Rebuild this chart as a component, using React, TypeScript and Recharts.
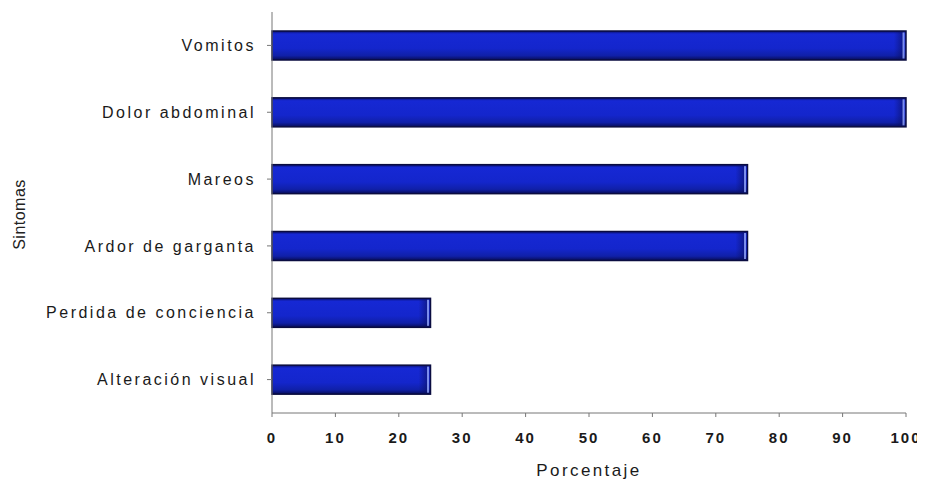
import React from 'react';
import { BarChart, Bar, XAxis, YAxis } from 'recharts';

const sintomas = [
  'Vomitos',
  'Dolor abdominal',
  'Mareos',
  'Ardor de garganta',
  'Perdida de conciencia',
  'Alteración visual',
];
const porcentajes = [100, 100, 75, 75, 25, 25];
const xTicks = [0, 10, 20, 30, 40, 50, 60, 70, 80, 90, 100];

const data = sintomas.map((s, i) => ({ sintoma: s, valor: porcentajes[i] }));

const FONT = 'Arial, "Liberation Sans", sans-serif';

// Bar with a shaded face, dark outline and a pale highlight on its end
const ShadedBar = (props: any) => {
  const { x, y, width, height } = props;
  if (!width || !height) return null;
  return (
    <g>
      <rect x={x} y={y} width={width} height={height} fill="url(#barShade)" stroke="#0a0c40" strokeWidth={1.5} />
      <rect x={x + width - 12} y={y + 1} width={9} height={height - 2} fill="url(#barEnd)" />
      <rect x={x + width - 3.5} y={y + 1.5} width={2} height={height - 3} fill="#9fb2ff" opacity={0.75} />
    </g>
  );
};

const YLabel = (props: any) => {
  const { viewBox } = props;
  const cx = viewBox.x + 17;
  const cy = viewBox.y + viewBox.height / 2 + 2;
  return (
    <text
      x={cx}
      y={cy}
      transform={`rotate(-90 ${cx} ${cy})`}
      textAnchor="middle"
      fontFamily={FONT}
      fontSize={16}
      letterSpacing={0.5}
      fill="#222"
    >
      Sintomas
    </text>
  );
};

export default function App() {
  return (
    <BarChart
      width={917}
      height={474}
      data={data}
      layout="vertical"
      margin={{ top: 4, right: 19, bottom: 34, left: 0 }}
      barSize={29}
    >
      <defs>
        <linearGradient id="barShade" x1="0" y1="0" x2="0" y2="1">
          <stop offset="0%" stopColor="#0a1070" />
          <stop offset="10%" stopColor="#1628d4" />
          <stop offset="60%" stopColor="#1426cc" />
          <stop offset="85%" stopColor="#1020a8" />
          <stop offset="100%" stopColor="#080d58" />
        </linearGradient>
        <linearGradient id="barEnd" x1="0" y1="0" x2="1" y2="0">
          <stop offset="0%" stopColor="#0a1060" stopOpacity={0} />
          <stop offset="100%" stopColor="#0a1060" stopOpacity={0.6} />
        </linearGradient>
      </defs>
      <XAxis
        type="number"
        domain={[0, 100]}
        ticks={xTicks}
        interval={0}
        axisLine={{ stroke: '#777' }}
        tickLine={{ stroke: '#777' }}
        tickSize={4}
        height={35}
        tick={{ fontFamily: FONT, fontSize: 15, fontWeight: 'bold', fill: '#1a1a1a', letterSpacing: 2 }}
        tickMargin={15}
        label={{
          value: 'Porcentaje',
          position: 'insideBottom',
          offset: -28,
          fontFamily: FONT,
          fontSize: 17,
          fill: '#1a1a1a',
          letterSpacing: 2.4,
        } as any}
      />
      <YAxis
        type="category"
        dataKey="sintoma"
        width={264}
        axisLine={{ stroke: '#777' }}
        tickLine={{ stroke: '#777' }}
        tickSize={5}
        tickMargin={11}
        tick={{ fontFamily: FONT, fontSize: 16, fill: '#1a1a1a', letterSpacing: 2.5 }}
        label={<YLabel />}
      />
      <Bar dataKey="valor" shape={<ShadedBar />} isAnimationActive={false} />
    </BarChart>
  );
}
